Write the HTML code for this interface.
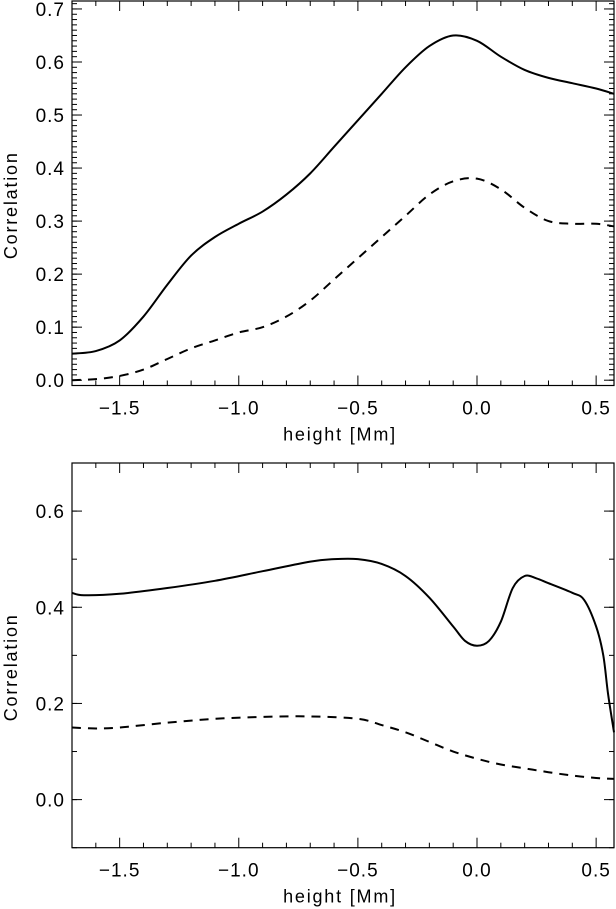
<!DOCTYPE html>
<html><head><meta charset="utf-8"><style>
html,body{margin:0;padding:0;background:#fff;}
svg{display:block;font-family:"Liberation Sans",sans-serif;}
</style></head><body>
<svg id="chart" width="616" height="909" viewBox="0 0 616 909"></svg>
<script>
// Top panel data
const topX = [-1.7,-1.6,-1.5,-1.4,-1.3,-1.2,-1.1,-1.0,-0.9,-0.8,-0.7,-0.6,-0.5,-0.4,-0.3,-0.2,-0.1,0.0,0.1,0.2,0.3,0.4,0.5,0.575];
const topSolid = [0.05,0.055,0.075,0.12,0.18,0.235,0.27,0.295,0.318,0.35,0.39,0.44,0.49,0.54,0.59,0.63,0.65,0.64,0.61,0.585,0.57,0.56,0.55,0.54];
const topDashed = [0.0,0.002,0.008,0.02,0.04,0.06,0.075,0.09,0.1,0.12,0.15,0.19,0.23,0.27,0.31,0.35,0.375,0.38,0.36,0.325,0.3,0.295,0.295,0.29];
// Bottom panel data
const botX = [-1.7,-1.65,-1.5,-1.3,-1.1,-0.9,-0.7,-0.6,-0.5,-0.4,-0.3,-0.2,-0.1,-0.05,0.0,0.05,0.1,0.15,0.2,0.25,0.3,0.4,0.45,0.5,0.53,0.55,0.575];
const botSolid = [0.43,0.425,0.428,0.44,0.455,0.475,0.495,0.5,0.5,0.49,0.465,0.42,0.36,0.33,0.32,0.33,0.37,0.44,0.465,0.46,0.45,0.43,0.415,0.36,0.3,0.22,0.14];
const botDashedX = [-1.7,-1.6,-1.5,-1.3,-1.1,-0.9,-0.7,-0.5,-0.4,-0.3,-0.2,-0.1,0.0,0.1,0.2,0.3,0.4,0.5,0.575];
const botDashed = [0.15,0.148,0.15,0.16,0.168,0.172,0.173,0.168,0.155,0.14,0.12,0.1,0.085,0.073,0.065,0.057,0.05,0.045,0.043];
const xTicks = [-1.5,-1.0,-0.5,0.0,0.5];
const xTickLabels = ["\u22121.5","\u22121.0","\u22120.5","0.0","0.5"];
const topYTicks = [0.0,0.1,0.2,0.3,0.4,0.5,0.6,0.7];
const botYTicks = [0.0,0.2,0.4,0.6];

const NS="http://www.w3.org/2000/svg";
const svg=document.getElementById('chart');
function mk(tag,attrs,parent){const e=document.createElementNS(NS,tag);for(const k in attrs)e.setAttribute(k,attrs[k]);(parent||svg).appendChild(e);return e;}

function panel(cfg){
  const g=mk('g',{});
  
  
  const L=72,R=614,T=cfg.top,B=cfg.bottom;
  const sx=v=>L+(v-(-1.7))/(0.575+1.7)*(R-L);
  const sy=v=>B-(v-cfg.ymin)/(cfg.ymax-cfg.ymin)*(B-T);
  const box=mk('rect',{x:L,y:T,width:R-L,height:B-T,fill:'none',stroke:'#000','stroke-width':1.2},g);
  
  
  for(let v=-1.7;v<=0.58;v+=0.1){
    const r=Math.round(v*10)/10; const major=Math.abs(r*2-Math.round(r*2))<1e-6;
    const len=major?10:5;const x=sx(r);
    mk('line',{x1:x,y1:B,x2:x,y2:B-len,stroke:'#000'},g);
    mk('line',{x1:x,y1:T,x2:x,y2:T+len,stroke:'#000'},g);
  }
  xTicks.forEach((v,i)=>{
    const t=mk('text',{x:sx(v),y:B+29,'font-size':19,'text-anchor':'middle','letter-spacing':1},g);
    t.textContent=xTickLabels[i];
    
    
  });
  for(let v=cfg.ymin;v<=cfg.ymax+1e-6;v+=cfg.minor){
    const y=sy(v);
    mk('line',{x1:L,y1:y,x2:L+5,y2:y,stroke:'#000'},g);
    mk('line',{x1:R,y1:y,x2:R-5,y2:y,stroke:'#000'},g);
  }
  cfg.yticks.forEach(v=>{
    const y=sy(v);
    mk('line',{x1:L,y1:y,x2:L+10,y2:y,stroke:'#000'},g);
    mk('line',{x1:R,y1:y,x2:R-10,y2:y,stroke:'#000'},g);
    const t=mk('text',{x:L-7,y:y+7,'font-size':19,'text-anchor':'end','letter-spacing':1},g);
    t.textContent=v.toFixed(1);
    
    
  });
  const xl=mk('text',{x:(L+R)/2-3,y:B+55,'font-size':18,'text-anchor':'middle','letter-spacing':1.8},g);
  xl.textContent='height [Mm]';
  
  
  const cy=(T+B)/2+12;
  const yl=mk('text',{x:17,y:cy,'font-size':18,'text-anchor':'middle','letter-spacing':1.8,transform:`rotate(-90 17 ${cy})`},g);
  yl.textContent='Correlation';
  
  
  function curve(xs,ys,dash,name){
    const p=xs.map((x,i)=>[sx(x),sy(ys[i])]);
    let d=`M${p[0][0]},${p[0][1]}`;
    for(let i=0;i<p.length-1;i++){
      const p0=p[i-1]||p[i],p1=p[i],p2=p[i+1],p3=p[i+2]||p2;
      d+=` C${p1[0]+(p2[0]-p0[0])/6},${p1[1]+(p2[1]-p0[1])/6} ${p2[0]-(p3[0]-p1[0])/6},${p2[1]-(p3[1]-p1[1])/6} ${p2[0]},${p2[1]}`;
    }
    const e=mk('path',{d:d,fill:'none',stroke:'#000','stroke-width':2,'stroke-dasharray':dash?'9,7':'none'},g);
    
    
  }
  curve(cfg.xs,cfg.solid,false,'solid-line');
  curve(cfg.dxs,cfg.dashed,true,'dashed-line');
}
panel({name:'top-panel',top:1,bottom:385.5,ymin:-0.01,ymax:0.715,minor:0.01,yticks:topYTicks,xs:topX,solid:topSolid,dxs:topX,dashed:topDashed});
panel({name:'bottom-panel',top:463,bottom:847.7,ymin:-0.1,ymax:0.7,minor:0.1,yticks:botYTicks,xs:botX,solid:botSolid,dxs:botDashedX,dashed:botDashed});
</script>
</body></html>
